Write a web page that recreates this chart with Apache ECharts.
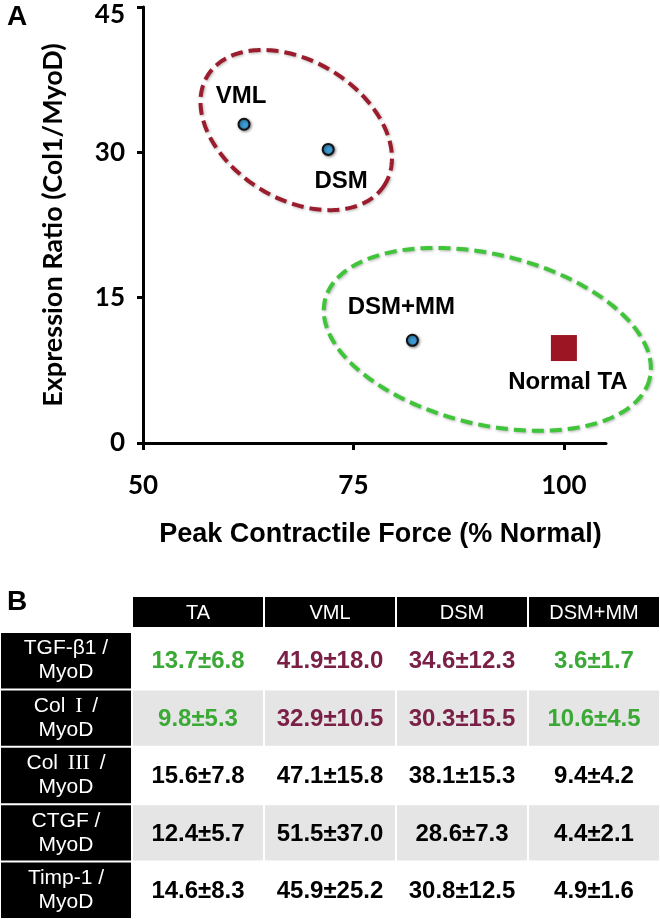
<!DOCTYPE html>
<html><head><meta charset="utf-8">
<script src="https://cdn.jsdelivr.net/npm/echarts@6/dist/echarts.min.js"></script>
<style>html,body{margin:0;padding:0;background:#fff}#c{width:660px;height:919px}</style>
</head><body><div id="c"></div>
<script>
// ---- Panel A data ----
const groups = ['VML', 'DSM', 'DSM+MM', 'Normal TA'];
const peakForce = [62, 72, 82, 100];          // % normal
const col1Ratio = [32.9, 30.3, 10.6, 9.8];    // Col1/MyoD
const xTicks = [50, 75, 100];
const yTicks = [0, 15, 30, 45];
const clusterCenters = [[68.2, 32.3], [90.9, 10.7]]; // fibrotic, normal-like

// ---- Panel B data ----
const tableColumns = ['TA', 'VML', 'DSM', 'DSM+MM'];
const tableRows = ['TGF-β1', 'Col I', 'Col III', 'CTGF', 'Timp-1'];
const means = [
  [13.7, 41.9, 34.6, 3.6],
  [9.8, 32.9, 30.3, 10.6],
  [15.6, 47.1, 38.1, 9.4],
  [12.4, 51.5, 28.6, 4.4],
  [14.6, 45.9, 30.8, 4.9]
];
const sds = [
  [6.8, 18.0, 12.3, 1.7],
  [5.3, 10.5, 15.5, 4.5],
  [7.8, 15.8, 15.3, 4.2],
  [5.7, 37.0, 7.3, 2.1],
  [8.3, 25.2, 12.5, 1.6]
];
const columnCluster = ['normal', 'fibrotic', 'fibrotic', 'normal'];
const clusterHighlightedRows = ['TGF-β1', 'Col I'];

// ---- styling (not data) ----
const ellipseStyle = [
  { rx: 104, ry: 69, angle: 31.5, color: '#9b1c2c' },
  { rx: 167, ry: 85, angle: 13.6, color: '#3fc43a' }
];
const clusterColor = { normal: '#3aa935', fibrotic: '#7a1f45' };
const labelOffsets = [[-3, -28], [13, 32], [-11, -33], [4, 34]];

const chart = echarts.init(document.getElementById('c'), null, { renderer: 'canvas' });

const scatterData = groups.map((g, i) => {
  const isRef = g === 'Normal TA';
  return {
    name: g,
    value: [peakForce[i], col1Ratio[i]],
    symbol: isRef ? 'rect' : 'circle',
    symbolSize: isRef ? 26 : 11,
    itemStyle: isRef
      ? { color: '#9b1522', borderWidth: 0, opacity: 1 }
      : { color: '#3d9bd6', borderColor: '#111', borderWidth: 2, opacity: 1, shadowBlur: 3, shadowColor: 'rgba(0,0,0,0.45)', shadowOffsetX: 1, shadowOffsetY: 1 },
    label: { offset: labelOffsets[i] }
  };
});

const bodyCells = [];
tableRows.forEach((r, ri) => {
  for (let c = 0; c < 5; c++) bodyCells.push([c, ri]);
});
const headerCells = tableColumns.map((t, i) => [i + 1, 0]);

function rowLabelRich(name) {
  const m = name.match(/^(.*?)\b(I+)$/);
  if (m) return '{n|' + m[1] + '}{s|' + m[2] + '}{n| /}\n{n|MyoD}';
  return '{n|' + name + ' /}\n{n|MyoD}';
}

const option = {
  backgroundColor: '#fff',
  animation: false,
  grid: [
    { left: 143, top: 7, width: 463, height: 436 },
    { left: 0, top: 597, width: 660, height: 30 },
    { left: 0, top: 632, width: 660, height: 287 }
  ],
  xAxis: [
    {
      gridIndex: 0, type: 'value', min: 50, max: 105, interval: 25,
      splitLine: { show: false },
      axisLine: { lineStyle: { color: '#000', width: 3 } },
      axisTick: { customValues: xTicks, length: 7, lineStyle: { color: '#000', width: 3 } },
      axisLabel: { customValues: xTicks, margin: 30, color: '#000', fontFamily: 'Lato', fontWeight: 'bold', fontSize: 26 },
      name: 'Peak Contractile Force (% Normal)', nameLocation: 'middle', nameGap: 78,
      nameTextStyle: { color: '#000', fontFamily: 'Liberation Sans', fontWeight: 'bold', fontSize: 27, padding: [0, 0, 0, 12] }
    },
    { gridIndex: 1, type: 'category', data: [''].concat(tableColumns), show: false },
    { gridIndex: 2, type: 'category', data: [''].concat(tableColumns), show: false }
  ],
  yAxis: [
    {
      gridIndex: 0, type: 'value', min: 0, max: 45, interval: 15,
      splitLine: { show: false },
      axisLine: { show: true, lineStyle: { color: '#000', width: 3 } },
      axisTick: { show: true, customValues: yTicks, length: 6, lineStyle: { color: '#000', width: 3 } },
      axisLabel: {
        customValues: yTicks, margin: 18, color: '#000', fontFamily: 'Lato', fontWeight: 'bold', fontSize: 26,
        formatter: v => v === 45 ? '{t|' + v + '}' : '{n|' + v + '}',
        rich: {
          t: { fontFamily: 'Lato', fontWeight: 'bold', fontSize: 26, color: '#000', padding: [15, 0, 0, 0] },
          n: { fontFamily: 'Lato', fontWeight: 'bold', fontSize: 26, color: '#000' }
        }
      },
      name: 'Expression Ratio (Col1/MyoD)', nameLocation: 'middle', nameGap: 76,
      nameTextStyle: { color: '#000', fontFamily: 'Lato', fontWeight: 'bold', fontSize: 27 }
    },
    { gridIndex: 1, type: 'category', data: ['header'], show: false },
    { gridIndex: 2, type: 'category', data: tableRows, inverse: true, show: false }
  ],
  graphic: [
    { type: 'text', left: 7, top: 3, style: { text: 'A', font: 'bold 28px "Liberation Sans"', fill: '#000' } },
    { type: 'text', left: 7, top: 588, style: { text: 'B', font: 'bold 28px "Liberation Sans"', fill: '#000' } }
  ],
  series: [
    {
      type: 'custom', xAxisIndex: 0, yAxisIndex: 0, clip: false, z: 1,
      data: clusterCenters.map((c, i) => [c[0], c[1], i]),
      renderItem: (params, api) => {
        const e = ellipseStyle[api.value(2)];
        const c = api.coord([api.value(0), api.value(1)]);
        const t = e.angle * Math.PI / 180;
        const pts = [];
        const N = 240;
        for (let k = 0; k < N; k++) {
          const a = k / N * 2 * Math.PI;
          const x = e.rx * Math.cos(a), y = e.ry * Math.sin(a);
          pts.push([c[0] + x * Math.cos(t) - y * Math.sin(t), c[1] + x * Math.sin(t) + y * Math.cos(t)]);
        }
        return {
          type: 'polygon', shape: { points: pts },
          style: { fill: 'none', stroke: e.color, lineWidth: 4, lineDash: [12, 6],
                   shadowBlur: 3, shadowColor: 'rgba(0,0,0,0.3)', shadowOffsetX: 1, shadowOffsetY: 1 }
        };
      }
    },
    {
      type: 'scatter', xAxisIndex: 0, yAxisIndex: 0, z: 3,
      data: scatterData,
      itemStyle: { opacity: 1 },
      label: {
        show: true, position: 'inside', formatter: p => p.name,
        color: '#000', fontFamily: 'Liberation Sans', fontWeight: 'bold', fontSize: 24
      }
    },
    {
      type: 'custom', xAxisIndex: 1, yAxisIndex: 1,
      data: headerCells,
      renderItem: (params, api) => {
        const col = api.value(0);
        const c = api.coord([col, api.value(1)]);
        const s = api.size([1, 1]);
        return {
          type: 'group',
          children: [
            { type: 'rect', shape: { x: c[0] - s[0] / 2 + 1, y: c[1] - s[1] / 2, width: s[0] - 2, height: s[1] }, style: { fill: '#000' } },
            { type: 'text', style: { text: tableColumns[col - 1], x: c[0], y: c[1] + 1, align: 'center', verticalAlign: 'middle',
              font: '20px "Liberation Sans"', fill: '#fff' } }
          ]
        };
      }
    },
    {
      type: 'custom', xAxisIndex: 2, yAxisIndex: 2,
      data: bodyCells,
      renderItem: (params, api) => {
        const col = api.value(0), row = api.value(1);
        const c = api.coord([col, row]);
        const s = api.size([1, 1]);
        const rect = { x: c[0] - s[0] / 2 + 1, y: c[1] - s[1] / 2 + 1, width: s[0] - 2, height: s[1] - 2 };
        const rowName = tableRows[row];
        if (col === 0) {
          return {
            type: 'group', children: [
              { type: 'rect', shape: rect, style: { fill: '#000' } },
              { type: 'text', style: { text: rowLabelRich(rowName), x: c[0], y: c[1], align: 'center', verticalAlign: 'middle',
                rich: {
                  n: { fontFamily: 'Liberation Sans', fontSize: 21, fill: '#fff', lineHeight: 24 },
                  s: { fontFamily: 'Liberation Serif', fontSize: 22, fill: '#fff', lineHeight: 24, padding: [0, 4, 0, 4] }
                } } }
            ]
          };
        }
        const ci = col - 1;
        const txt = means[row][ci].toFixed(1) + '±' + sds[row][ci].toFixed(1);
        const color = clusterHighlightedRows.indexOf(rowName) >= 0 ? clusterColor[columnCluster[ci]] : '#000';
        const shaded = row % 2 === 1;
        return {
          type: 'group', children: [
            { type: 'rect', shape: rect, style: { fill: shaded ? '#e5e5e5' : '#fff' } },
            { type: 'text', style: { text: txt, x: c[0], y: c[1] + 1, align: 'center', verticalAlign: 'middle',
              font: 'bold 24px "Liberation Sans"', fill: color } }
          ]
        };
      }
    }
  ]
};
chart.setOption(option);
</script>
</body></html>
